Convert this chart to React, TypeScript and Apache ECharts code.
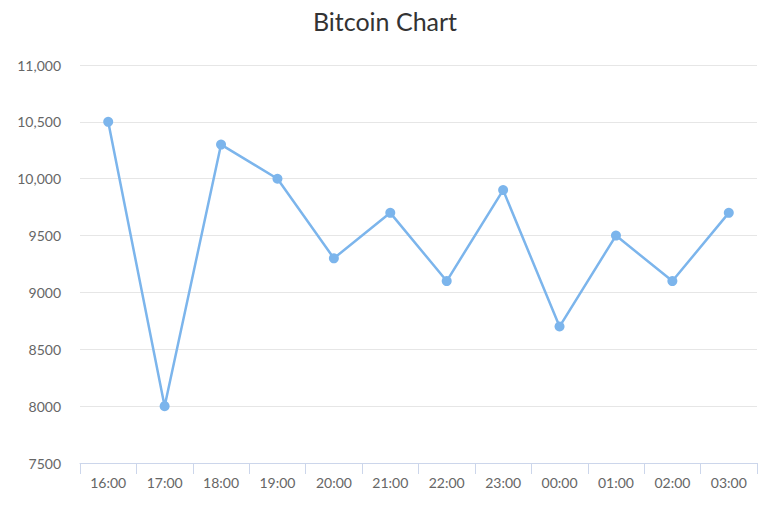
import React, { useEffect, useRef } from "react";
import * as echarts from "echarts";

const hours = ["16:00", "17:00", "18:00", "19:00", "20:00", "21:00", "22:00", "23:00", "00:00", "01:00", "02:00", "03:00"];
const prices = [10500, 8000, 10300, 10000, 9300, 9700, 9100, 9900, 8700, 9500, 9100, 9700];
const yMin = 7500;
const yMax = 11000;
const yStep = 500;

const fmt = (v: number) => (v >= 10000 ? v.toLocaleString("en-US") : String(v));

export default function App() {
  const ref = useRef<HTMLDivElement>(null);
  useEffect(() => {
    if (!ref.current) return;
    const chart = echarts.init(ref.current, undefined, { renderer: "svg" });
    chart.setOption({
      animation: false,
      backgroundColor: "#ffffff",
      title: {
        text: "Bitcoin Chart",
        left: "center",
        top: 3,
        textStyle: { fontFamily: "Lato", fontSize: 25, fontWeight: "normal", color: "#333333" },
      },
      grid: { left: 80, right: 13, top: 65, bottom: 45 },
      xAxis: {
        type: "category",
        data: hours,
        boundaryGap: true,
        axisLine: { lineStyle: { color: "#ccd6eb", width: 1 } },
        axisTick: { show: true, length: 11, lineStyle: { color: "#ccd6eb" } },
        axisLabel: { color: "#666666", fontFamily: "Lato", fontSize: 14, margin: 12 },
        splitLine: { show: false },
      },
      yAxis: {
        type: "value",
        min: yMin,
        max: yMax,
        interval: yStep,
        axisLine: { show: false },
        axisTick: { show: false },
        axisLabel: { color: "#666666", fontFamily: "Lato", fontSize: 14, margin: 19, formatter: fmt },
        splitLine: { lineStyle: { color: "#e6e6e6", width: 1 } },
      },
      series: [
        {
          type: "line",
          data: prices,
          symbol: "circle",
          symbolSize: 10,
          lineStyle: { color: "#7cb5ec", width: 2.5 },
          itemStyle: { color: "#7cb5ec" },
        },
      ],
    });
    return () => chart.dispose();
  }, []);
  return <div ref={ref} style={{ position: "absolute", left: 0, top: 0, width: 770, height: 508 }} />;
}
